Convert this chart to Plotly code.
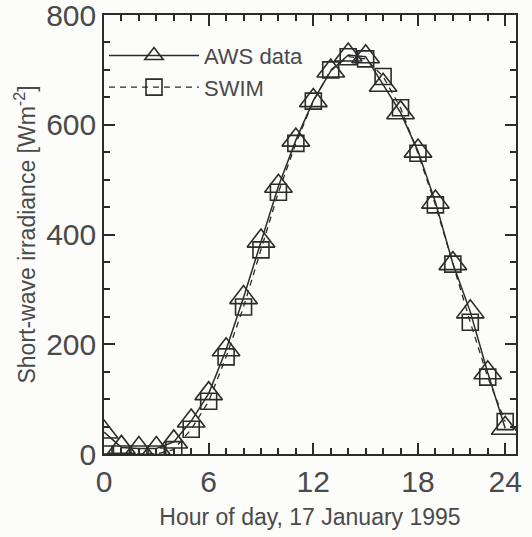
import plotly.graph_objects as go

# Hour of day (as drawn in the reference)
hours = list(range(24))

# AWS measured short-wave irradiance [W m^-2]
aws = [40, 12, 10, 10, 22, 60, 110, 190, 285, 388, 488, 572, 644, 698,
       727, 724, 672, 622, 552, 459, 347, 259, 148, 47]

# SWIM model short-wave irradiance [W m^-2]
swim = [0, 0, 0, 0, 8, 45, 96, 177, 268, 372, 477, 566, 643, 700,
        724, 720, 688, 631, 548, 454, 346, 240, 140, 59]

# Tick positions / labels
x_tickvals = [0, 6, 12, 18, 23]
x_ticktext = ["0", "6", "12", "18", "24"]
y_tickvals = [0, 200, 400, 600, 800]

ink = "#2b2b2b"
txt = "#4a4a4a"
font_family = "Liberation Sans, Arial, sans-serif"

fig = go.Figure()
fig.add_trace(go.Scatter(
    x=hours, y=aws, name="AWS data", mode="lines+markers",
    line=dict(color=ink, width=1.5),
    marker=dict(symbol="triangle-up-open", size=24, color=ink,
                line=dict(width=1.6, color=ink)),
))
fig.add_trace(go.Scatter(
    x=hours, y=swim, name="SWIM", mode="lines+markers",
    line=dict(color=ink, width=1.3, dash="6px,5px"),
    marker=dict(symbol="square-open", size=16, color=ink,
                line=dict(width=1.6, color=ink)),
))

fig.update_layout(
    width=532, height=537,
    margin=dict(l=104, r=16, t=15, b=83, autoexpand=False),
    paper_bgcolor="#fcfcfa", plot_bgcolor="#fcfcfa",
    font=dict(family=font_family, color=txt),
    showlegend=True,
    legend=dict(x=0.0, y=0.955, xanchor="left", yanchor="top",
                bgcolor="rgba(0,0,0,0)", font=dict(size=22, color=txt),
                itemwidth=90, tracegroupgap=6),
)
fig.update_xaxes(
    range=[0, 23.62], tickmode="array", tickvals=x_tickvals, ticktext=x_ticktext,
    ticks="inside", ticklen=11, tickwidth=2, tickcolor=ink, layer="above traces",
    showline=True, linecolor=ink, linewidth=1.6, mirror="ticks",
    showgrid=False, zeroline=False, ticklabeloverflow="allow", automargin=False,
    tickfont=dict(size=30, color=txt),
    minor=dict(tickmode="linear", dtick=1, tick0=0, ticks="inside", ticklen=6, tickwidth=1.6, tickcolor=ink),
    title=dict(text="Hour of day, 17 January 1995", font=dict(size=23, color=txt), standoff=12),
)
fig.update_yaxes(
    range=[0, 800], tickmode="array", tickvals=y_tickvals,
    ticks="inside", ticklen=11, tickwidth=2, tickcolor=ink, layer="above traces",
    showline=True, linecolor=ink, linewidth=1.6, mirror="ticks",
    showgrid=False, zeroline=False, ticklabeloverflow="allow", automargin=False,
    tickfont=dict(size=30, color=txt),
    minor=dict(tickmode="linear", dtick=50, tick0=0, ticks="inside", ticklen=6, tickwidth=1.6, tickcolor=ink),
    title=dict(text="Short-wave irradiance [Wm<sup>-2</sup>]", font=dict(size=23, color=txt), standoff=4),
)

fig.write_html("out.html")
